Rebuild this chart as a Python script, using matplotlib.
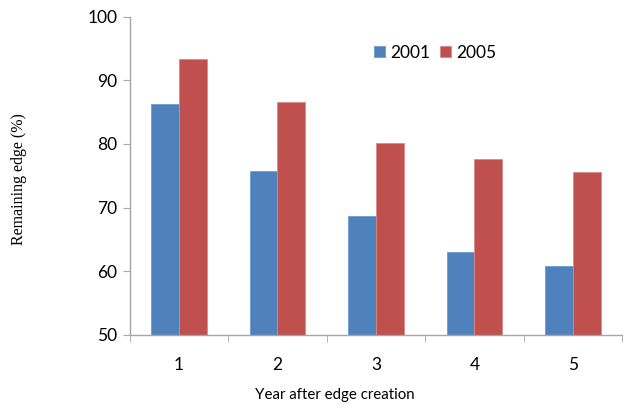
import numpy as np
import matplotlib.pyplot as plt

years = [1, 2, 3, 4, 5]
edge_2001 = [86.3, 75.7, 68.7, 63.1, 60.9]
edge_2005 = [93.3, 86.6, 80.2, 77.6, 75.6]

blue = "#4F81BD"
red = "#C0504D"
grey = "#A6A6A6"

fig = plt.figure(figsize=(6.24, 4.04), dpi=100)
ax = fig.add_axes([0.208, 0.171, 0.789, 0.788])

x = np.arange(len(years))
w = 0.283
ax.bar(x - w / 2, edge_2001, w, bottom=0, color=blue, edgecolor="#6F9BD0", linewidth=0.6, label="2001")
ax.bar(x + w / 2, edge_2005, w, bottom=0, color=red, edgecolor="#D98A88", linewidth=0.6, label="2005")

ax.set_ylim(50, 100)
ax.set_xlim(-0.5, len(years) - 0.5)
ax.set_yticks(range(50, 101, 10))
ax.set_xticks(x)
ax.set_xticklabels(years)
ax.set_xticks(np.arange(-0.5, len(years)), minor=True)

for s in ["top", "right"]:
    ax.spines[s].set_visible(False)
for s in ["left", "bottom"]:
    ax.spines[s].set_color(grey)
    ax.spines[s].set_linewidth(1)

ax.tick_params(axis="y", length=5, color=grey, labelsize=12.5, pad=4)
ax.tick_params(axis="x", which="major", length=0, labelsize=12.5, pad=16)
ax.tick_params(axis="x", which="minor", length=5, color=grey)
for lab in ax.get_xticklabels() + ax.get_yticklabels():
    lab.set_family("Lato")

fig.text(0.537, 0.022, "Year after edge creation", ha="center", va="center",
         fontsize=10.8, family="Lato")
fig.text(0.031, 0.556, "Remaining edge (%)", ha="center", va="center",
         rotation=90, fontsize=11.5, family="Liberation Serif")

ax.legend(loc="center", bbox_to_anchor=(0.62, 0.886), ncol=2, frameon=False,
          prop={"family": "Lato", "size": 12.5}, handlelength=0.6, handleheight=0.6,
          handletextpad=0.3, columnspacing=0.6)

fig.savefig("out.png", dpi=100)
